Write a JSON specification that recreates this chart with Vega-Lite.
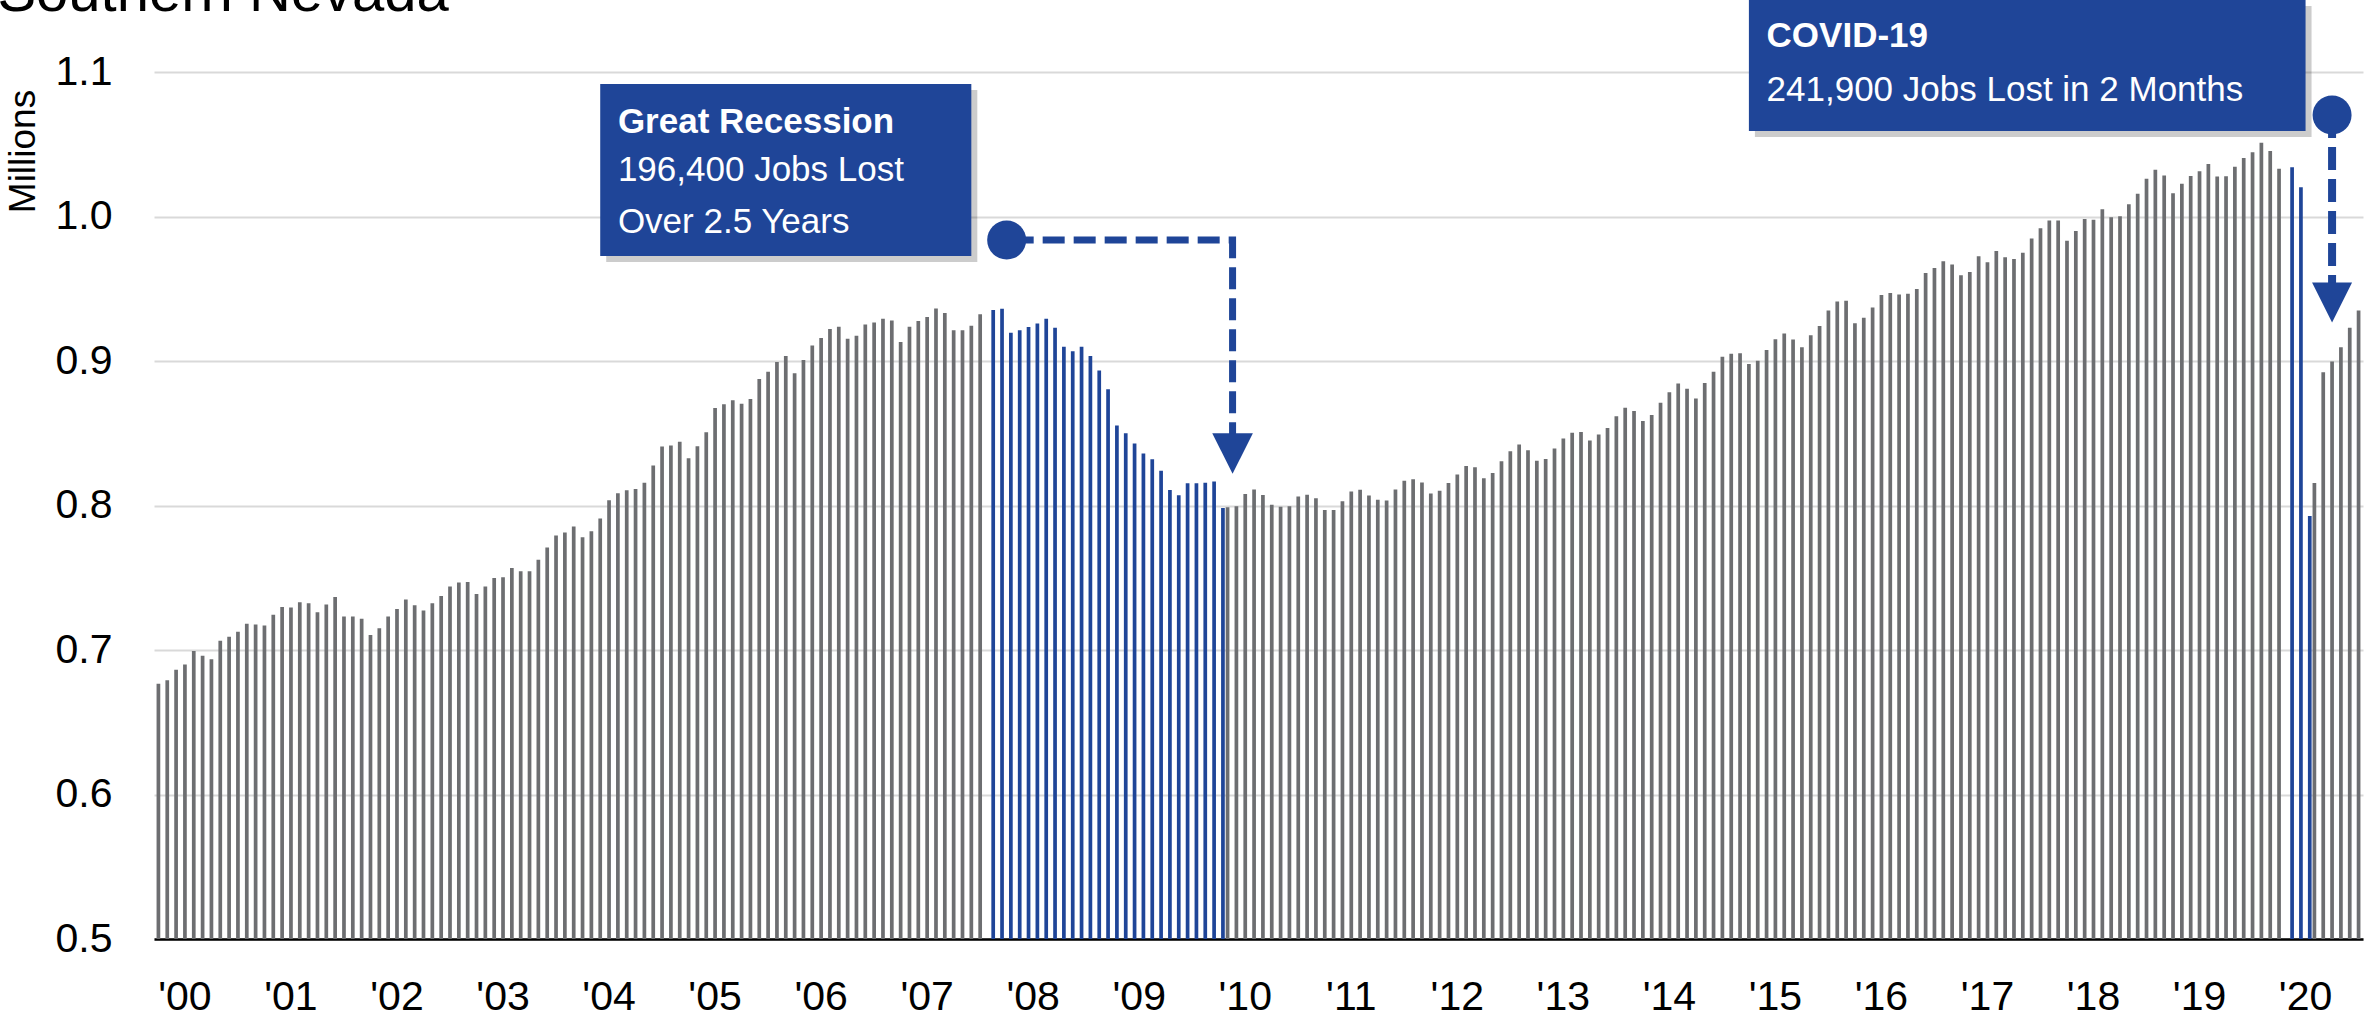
{
  "$schema": "https://vega.github.io/schema/vega-lite/v6.json",
  "autosize": {"type": "none"},
  "width": 2209,
  "height": 867,
  "padding": {"left": 154, "top": 72, "right": 1, "bottom": 79},
  "background": "white",
  "config": {
    "view": {"stroke": null},
    "font": "Liberation Sans"
  },
  "datasets": {
    "jobs": [
      {"m":"2000-01","v":0.6766,"h":0},{"m":"2000-02","v":0.679,"h":0},{"m":"2000-03","v":0.6864,"h":0},{"m":"2000-04","v":0.690,"h":0},{"m":"2000-05","v":0.6993,"h":0},{"m":"2000-06","v":0.696,"h":0},{"m":"2000-07","v":0.6936,"h":0},{"m":"2000-08","v":0.7064,"h":0},{"m":"2000-09","v":0.7092,"h":0},{"m":"2000-10","v":0.7126,"h":0},{"m":"2000-11","v":0.7182,"h":0},{"m":"2000-12","v":0.7177,"h":0},
      {"m":"2001-01","v":0.717,"h":0},{"m":"2001-02","v":0.7244,"h":0},{"m":"2001-03","v":0.7297,"h":0},{"m":"2001-04","v":0.7294,"h":0},{"m":"2001-05","v":0.7331,"h":0},{"m":"2001-06","v":0.7324,"h":0},{"m":"2001-07","v":0.7262,"h":0},{"m":"2001-08","v":0.7315,"h":0},{"m":"2001-09","v":0.7366,"h":0},{"m":"2001-10","v":0.7232,"h":0},{"m":"2001-11","v":0.7232,"h":0},{"m":"2001-12","v":0.7216,"h":0},
      {"m":"2002-01","v":0.7103,"h":0},{"m":"2002-02","v":0.715,"h":0},{"m":"2002-03","v":0.7232,"h":0},{"m":"2002-04","v":0.7283,"h":0},{"m":"2002-05","v":0.735,"h":0},{"m":"2002-06","v":0.731,"h":0},{"m":"2002-07","v":0.7273,"h":0},{"m":"2002-08","v":0.7323,"h":0},{"m":"2002-09","v":0.7374,"h":0},{"m":"2002-10","v":0.7439,"h":0},{"m":"2002-11","v":0.7467,"h":0},{"m":"2002-12","v":0.7471,"h":0},
      {"m":"2003-01","v":0.7388,"h":0},{"m":"2003-02","v":0.7439,"h":0},{"m":"2003-03","v":0.7499,"h":0},{"m":"2003-04","v":0.7503,"h":0},{"m":"2003-05","v":0.7568,"h":0},{"m":"2003-06","v":0.7545,"h":0},{"m":"2003-07","v":0.7545,"h":0},{"m":"2003-08","v":0.7624,"h":0},{"m":"2003-09","v":0.7709,"h":0},{"m":"2003-10","v":0.7792,"h":0},{"m":"2003-11","v":0.7813,"h":0},{"m":"2003-12","v":0.7854,"h":0},
      {"m":"2004-01","v":0.7781,"h":0},{"m":"2004-02","v":0.7822,"h":0},{"m":"2004-03","v":0.791,"h":0},{"m":"2004-04","v":0.8037,"h":0},{"m":"2004-05","v":0.8085,"h":0},{"m":"2004-06","v":0.8106,"h":0},{"m":"2004-07","v":0.8115,"h":0},{"m":"2004-08","v":0.8157,"h":0},{"m":"2004-09","v":0.8277,"h":0},{"m":"2004-10","v":0.8409,"h":0},{"m":"2004-11","v":0.8416,"h":0},{"m":"2004-12","v":0.8441,"h":0},
      {"m":"2005-01","v":0.8327,"h":0},{"m":"2005-02","v":0.841,"h":0},{"m":"2005-03","v":0.8507,"h":0},{"m":"2005-04","v":0.8675,"h":0},{"m":"2005-05","v":0.87,"h":0},{"m":"2005-06","v":0.8728,"h":0},{"m":"2005-07","v":0.8705,"h":0},{"m":"2005-08","v":0.8737,"h":0},{"m":"2005-09","v":0.8876,"h":0},{"m":"2005-10","v":0.8926,"h":0},{"m":"2005-11","v":0.8993,"h":0},{"m":"2005-12","v":0.9035,"h":0},
      {"m":"2006-01","v":0.8915,"h":0},{"m":"2006-02","v":0.9007,"h":0},{"m":"2006-03","v":0.9108,"h":0},{"m":"2006-04","v":0.9159,"h":0},{"m":"2006-05","v":0.9221,"h":0},{"m":"2006-06","v":0.9237,"h":0},{"m":"2006-07","v":0.9154,"h":0},{"m":"2006-08","v":0.9175,"h":0},{"m":"2006-09","v":0.9253,"h":0},{"m":"2006-10","v":0.9267,"h":0},{"m":"2006-11","v":0.9293,"h":0},{"m":"2006-12","v":0.9281,"h":0},
      {"m":"2007-01","v":0.9131,"h":0},{"m":"2007-02","v":0.9237,"h":0},{"m":"2007-03","v":0.9276,"h":0},{"m":"2007-04","v":0.9304,"h":0},{"m":"2007-05","v":0.9364,"h":0},{"m":"2007-06","v":0.9332,"h":0},{"m":"2007-07","v":0.9212,"h":0},{"m":"2007-08","v":0.9212,"h":0},{"m":"2007-09","v":0.9244,"h":0},{"m":"2007-10","v":0.9323,"h":0},{"m":"2007-11","v":0.9353,"h":1},{"m":"2007-12","v":0.9362,"h":1},
      {"m":"2008-01","v":0.9196,"h":1},{"m":"2008-02","v":0.9212,"h":1},{"m":"2008-03","v":0.9235,"h":1},{"m":"2008-04","v":0.926,"h":1},{"m":"2008-05","v":0.9293,"h":1},{"m":"2008-06","v":0.923,"h":1},{"m":"2008-07","v":0.9099,"h":1},{"m":"2008-08","v":0.9067,"h":1},{"m":"2008-09","v":0.9099,"h":1},{"m":"2008-10","v":0.9035,"h":1},{"m":"2008-11","v":0.8935,"h":1},{"m":"2008-12","v":0.8804,"h":1},
      {"m":"2009-01","v":0.8553,"h":1},{"m":"2009-02","v":0.85,"h":1},{"m":"2009-03","v":0.8429,"h":1},{"m":"2009-04","v":0.8359,"h":1},{"m":"2009-05","v":0.832,"h":1},{"m":"2009-06","v":0.824,"h":1},{"m":"2009-07","v":0.8108,"h":1},{"m":"2009-08","v":0.8071,"h":1},{"m":"2009-09","v":0.8154,"h":1},{"m":"2009-10","v":0.8154,"h":1},{"m":"2009-11","v":0.8157,"h":1},{"m":"2009-12","v":0.8166,"h":1},
      {"m":"2010-01","v":0.7982,"h":1},{"m":"2010-02","v":0.7988,"h":0},{"m":"2010-03","v":0.7995,"h":0},{"m":"2010-04","v":0.8079,"h":0},{"m":"2010-05","v":0.8111,"h":0},{"m":"2010-06","v":0.8072,"h":0},{"m":"2010-07","v":0.8005,"h":0},{"m":"2010-08","v":0.7991,"h":0},{"m":"2010-09","v":0.7995,"h":0},{"m":"2010-10","v":0.8063,"h":0},{"m":"2010-11","v":0.8074,"h":0},{"m":"2010-12","v":0.8051,"h":0},
      {"m":"2011-01","v":0.7968,"h":0},{"m":"2011-02","v":0.7968,"h":0},{"m":"2011-03","v":0.803,"h":0},{"m":"2011-04","v":0.8097,"h":0},{"m":"2011-05","v":0.8109,"h":0},{"m":"2011-06","v":0.8069,"h":0},{"m":"2011-07","v":0.8039,"h":0},{"m":"2011-08","v":0.8035,"h":0},{"m":"2011-09","v":0.8111,"h":0},{"m":"2011-10","v":0.8171,"h":0},{"m":"2011-11","v":0.8181,"h":0},{"m":"2011-12","v":0.816,"h":0},
      {"m":"2012-01","v":0.8083,"h":0},{"m":"2012-02","v":0.8102,"h":0},{"m":"2012-03","v":0.8155,"h":0},{"m":"2012-04","v":0.8215,"h":0},{"m":"2012-05","v":0.8273,"h":0},{"m":"2012-06","v":0.8264,"h":0},{"m":"2012-07","v":0.8188,"h":0},{"m":"2012-08","v":0.8225,"h":0},{"m":"2012-09","v":0.8306,"h":0},{"m":"2012-10","v":0.8376,"h":0},{"m":"2012-11","v":0.8423,"h":0},{"m":"2012-12","v":0.8383,"h":0},
      {"m":"2013-01","v":0.8309,"h":0},{"m":"2013-02","v":0.8321,"h":0},{"m":"2013-03","v":0.8395,"h":0},{"m":"2013-04","v":0.8464,"h":0},{"m":"2013-05","v":0.8503,"h":0},{"m":"2013-06","v":0.8508,"h":0},{"m":"2013-07","v":0.845,"h":0},{"m":"2013-08","v":0.8492,"h":0},{"m":"2013-09","v":0.8536,"h":0},{"m":"2013-10","v":0.8617,"h":0},{"m":"2013-11","v":0.8677,"h":0},{"m":"2013-12","v":0.8654,"h":0},
      {"m":"2014-01","v":0.8584,"h":0},{"m":"2014-02","v":0.8626,"h":0},{"m":"2014-03","v":0.8711,"h":0},{"m":"2014-04","v":0.8783,"h":0},{"m":"2014-05","v":0.8845,"h":0},{"m":"2014-06","v":0.8808,"h":0},{"m":"2014-07","v":0.8741,"h":0},{"m":"2014-08","v":0.8848,"h":0},{"m":"2014-09","v":0.8926,"h":0},{"m":"2014-10","v":0.903,"h":0},{"m":"2014-11","v":0.9051,"h":0},{"m":"2014-12","v":0.9053,"h":0},
      {"m":"2015-01","v":0.8979,"h":0},{"m":"2015-02","v":0.9002,"h":0},{"m":"2015-03","v":0.9076,"h":0},{"m":"2015-04","v":0.915,"h":0},{"m":"2015-05","v":0.919,"h":0},{"m":"2015-06","v":0.9148,"h":0},{"m":"2015-07","v":0.9095,"h":0},{"m":"2015-08","v":0.9178,"h":0},{"m":"2015-09","v":0.9243,"h":0},{"m":"2015-10","v":0.935,"h":0},{"m":"2015-11","v":0.9412,"h":0},{"m":"2015-12","v":0.9417,"h":0},
      {"m":"2016-01","v":0.9262,"h":0},{"m":"2016-02","v":0.9299,"h":0},{"m":"2016-03","v":0.937,"h":0},{"m":"2016-04","v":0.9456,"h":0},{"m":"2016-05","v":0.947,"h":0},{"m":"2016-06","v":0.9461,"h":0},{"m":"2016-07","v":0.9465,"h":0},{"m":"2016-08","v":0.9498,"h":0},{"m":"2016-09","v":0.9609,"h":0},{"m":"2016-10","v":0.9644,"h":0},{"m":"2016-11","v":0.969,"h":0},{"m":"2016-12","v":0.9667,"h":0},
      {"m":"2017-01","v":0.9593,"h":0},{"m":"2017-02","v":0.9616,"h":0},{"m":"2017-03","v":0.9725,"h":0},{"m":"2017-04","v":0.9683,"h":0},{"m":"2017-05","v":0.9762,"h":0},{"m":"2017-06","v":0.9718,"h":0},{"m":"2017-07","v":0.9706,"h":0},{"m":"2017-08","v":0.975,"h":0},{"m":"2017-09","v":0.9847,"h":0},{"m":"2017-10","v":0.9919,"h":0},{"m":"2017-11","v":0.9972,"h":0},{"m":"2017-12","v":0.9972,"h":0},
      {"m":"2018-01","v":0.9832,"h":0},{"m":"2018-02","v":0.9899,"h":0},{"m":"2018-03","v":0.9982,"h":0},{"m":"2018-04","v":0.9977,"h":0},{"m":"2018-05","v":1.0051,"h":0},{"m":"2018-06","v":0.9995,"h":0},{"m":"2018-07","v":1.0002,"h":0},{"m":"2018-08","v":1.0085,"h":0},{"m":"2018-09","v":1.0157,"h":0},{"m":"2018-10","v":1.0261,"h":0},{"m":"2018-11","v":1.0323,"h":0},{"m":"2018-12","v":1.0284,"h":0},
      {"m":"2019-01","v":1.0161,"h":0},{"m":"2019-02","v":1.0226,"h":0},{"m":"2019-03","v":1.0281,"h":0},{"m":"2019-04","v":1.0314,"h":0},{"m":"2019-05","v":1.0364,"h":0},{"m":"2019-06","v":1.0277,"h":0},{"m":"2019-07","v":1.0279,"h":0},{"m":"2019-08","v":1.0344,"h":0},{"m":"2019-09","v":1.0404,"h":0},{"m":"2019-10","v":1.0445,"h":0},{"m":"2019-11","v":1.051,"h":0},{"m":"2019-12","v":1.0454,"h":0},
      {"m":"2020-01","v":1.033,"h":0},{"m":"2020-02","v":1.0341,"h":1},{"m":"2020-03","v":1.0203,"h":1},{"m":"2020-04","v":0.7928,"h":1},{"m":"2020-05","v":0.8155,"h":0},{"m":"2020-06","v":0.8923,"h":0},{"m":"2020-07","v":0.8997,"h":0},{"m":"2020-08","v":0.9096,"h":0},{"m":"2020-09","v":0.923,"h":0},{"m":"2020-10","v":0.935,"h":0}
    ],
    "boxes": [
      {"x1":"2004-03","x2":"2007-09","y1":1.0917,"y2":0.9727},
      {"x1":"2015-01","x2":"2020-04","y1":1.1498,"y2":1.0592}
    ],
    "texts": [
      {"m":"2004-05","v":1.0654,"t":"Great Recession","b":1},
      {"m":"2004-05","v":1.0322,"t":"196,400 Jobs Lost","b":0},
      {"m":"2004-05","v":0.9962,"t":"Over 2.5 Years","b":0},
      {"m":"2015-03","v":1.1249,"t":"COVID-19","b":1},
      {"m":"2015-03","v":1.0875,"t":"241,900 Jobs Lost in 2 Months","b":0}
    ],
    "heading": [
      {"m":"2000-01","v":1.1422,"t":"Southern Nevada"}
    ],
    "dots": [
      {"m":"2008-01","v":0.9837},
      {"m":"2020-07","v":1.0702}
    ],
    "recPath": [
      {"m":"2008-01","v":0.9837,"o":0},
      {"m":"2010-02","v":0.9837,"o":1},
      {"m":"2010-02","v":0.8495,"o":2}
    ],
    "covPath": [
      {"m":"2020-07","v":1.0702,"o":0},
      {"m":"2020-07","v":0.954,"o":1}
    ],
    "recHead": [{"m":"2010-02","v":0.836}],
    "covHead": [{"m":"2020-07","v":0.9405}]
  },
  "encoding": {
    "x": {
      "field": "m", "type": "ordinal",
      "scale": {"type": "band", "paddingInner": 0, "paddingOuter": 0},
      "axis": {
        "title": null,
        "values": ["2000-04","2001-04","2002-04","2003-04","2004-04","2005-04","2006-04","2007-04","2008-04","2009-04","2010-04","2011-04","2012-04","2013-04","2014-04","2015-04","2016-04","2017-04","2018-04","2019-04","2020-04"],
        "labelExpr": "\"'\" + substring(datum.value, 2, 4)",
        "labelAngle": 0,
        "labelFont": "Liberation Sans",
        "labelFontSize": 41,
        "labelColor": "#000000",
        "labelPadding": 38,
        "ticks": false,
        "domain": true,
        "domainColor": "#000000",
        "domainWidth": 2.5,
        "grid": false
      }
    },
    "y": {
      "field": "v", "type": "quantitative",
      "scale": {"domain": [0.5, 1.1], "nice": false, "zero": false},
      "axis": {
        "title": "Millions",
        "titleFont": "Liberation Sans",
        "titleFontSize": 37,
        "titleFontWeight": "normal",
        "titleColor": "#000000",
        "titleAngle": -90,
        "titleX": -131,
        "titleY": 79,
        "titleAlign": "center",
        "titleBaseline": "middle",
        "values": [0.5, 0.6, 0.7, 0.8, 0.9, 1.0, 1.1],
        "format": ".1f",
        "labelFont": "Liberation Sans",
        "labelFontSize": 41,
        "labelColor": "#000000",
        "labelPadding": 42,
        "ticks": false,
        "domain": false,
        "grid": true,
        "gridColor": "#D9D9D9",
        "gridWidth": 2
      }
    }
  },
  "layer": [
    {
      "data": {"name": "jobs"},
      "transform": [{"filter": "datum.h == 0"}],
      "mark": {"type": "bar", "color": "#6D6E71", "width": {"band": 0.42}},
      "encoding": {"y2": {"datum": 0.5}}
    },
    {
      "data": {"name": "jobs"},
      "transform": [{"filter": "datum.h == 1"}],
      "mark": {"type": "bar", "color": "#1F4598", "width": {"band": 0.42}, "xOffset": 4.2},
      "encoding": {"y2": {"datum": 0.5}}
    },
    {
      "data": {"name": "boxes"},
      "mark": {"type": "rect", "color": "#000000", "opacity": 0.2, "xOffset": 6, "x2Offset": 6, "yOffset": 6, "y2Offset": 6},
      "encoding": {
        "x": {"field": "x1", "type": "ordinal"},
        "x2": {"field": "x2"},
        "y": {"field": "y1", "type": "quantitative"},
        "y2": {"field": "y2"}
      }
    },
    {
      "data": {"name": "boxes"},
      "mark": {"type": "rect", "color": "#1F4598"},
      "encoding": {
        "x": {"field": "x1", "type": "ordinal"},
        "x2": {"field": "x2"},
        "y": {"field": "y1", "type": "quantitative"},
        "y2": {"field": "y2"}
      }
    },
    {
      "data": {"name": "texts"},
      "transform": [{"filter": "datum.b == 1"}],
      "mark": {"type": "text", "align": "left", "baseline": "middle", "font": "Liberation Sans", "fontSize": 35, "fontWeight": "bold", "color": "#FFFFFF"},
      "encoding": {"text": {"field": "t"}}
    },
    {
      "data": {"name": "texts"},
      "transform": [{"filter": "datum.b == 0"}],
      "mark": {"type": "text", "align": "left", "baseline": "middle", "font": "Liberation Sans", "fontSize": 35, "fontWeight": "normal", "color": "#FFFFFF"},
      "encoding": {"text": {"field": "t"}}
    },
    {
      "data": {"name": "heading"},
      "mark": {"type": "text", "align": "left", "baseline": "alphabetic", "font": "Liberation Sans", "fontSize": 58, "fontWeight": "normal", "color": "#000000", "xOffset": -161},
      "encoding": {"text": {"field": "t"}}
    },
    {
      "data": {"name": "recPath"},
      "mark": {"type": "line", "color": "#1F4598", "strokeWidth": 7, "strokeDash": [22, 9], "strokeCap": "butt", "xOffset": 5},
      "encoding": {"order": {"field": "o"}}
    },
    {
      "data": {"name": "covPath"},
      "mark": {"type": "line", "color": "#1F4598", "strokeWidth": 8, "strokeDash": [23, 9], "strokeCap": "butt"},
      "encoding": {"order": {"field": "o"}}
    },
    {
      "data": {"name": "recHead"},
      "mark": {"type": "point", "shape": "M-1,-1L1,-1L0,1Z", "size": 1650, "filled": true, "color": "#1F4598", "opacity": 1, "xOffset": 5},
      "encoding": {}
    },
    {
      "data": {"name": "covHead"},
      "mark": {"type": "point", "shape": "M-1,-1L1,-1L0,1Z", "size": 1600, "filled": true, "color": "#1F4598", "opacity": 1},
      "encoding": {}
    },
    {
      "data": {"name": "dots"},
      "mark": {"type": "point", "shape": "circle", "size": 1521, "filled": true, "color": "#1F4598", "opacity": 1},
      "encoding": {}
    }
  ]
}
